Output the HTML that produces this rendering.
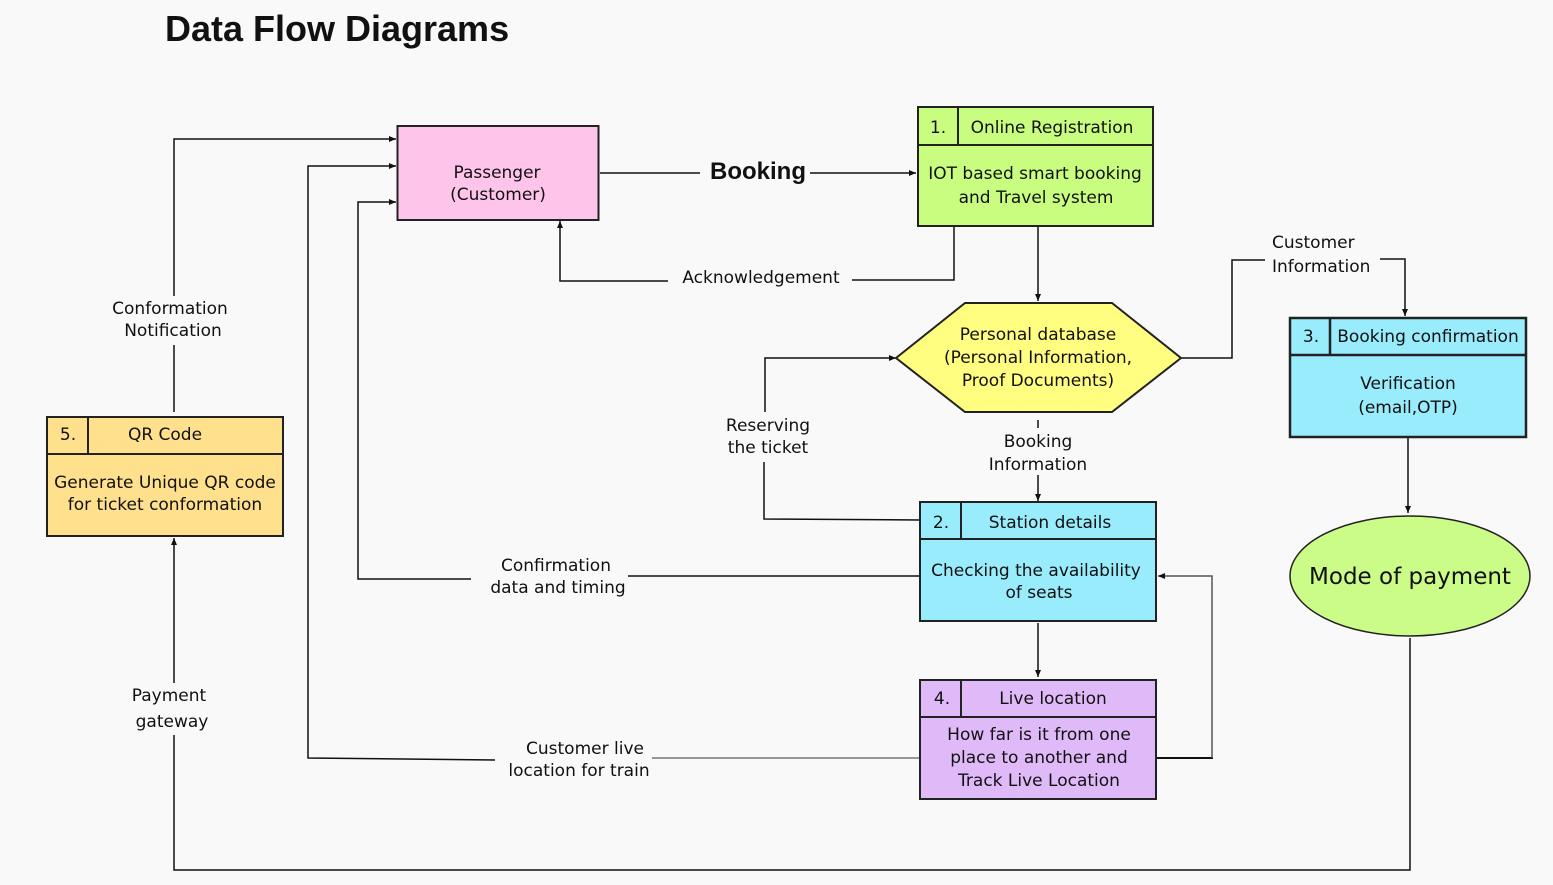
<!DOCTYPE html>
<html><head><meta charset="utf-8"><style>
html,body{margin:0;padding:0;background:#f9f9f9;}
svg{display:block;font-family:"DejaVu Sans","Liberation Sans",sans-serif;}
text{fill:#111;}
.t{font-size:17px;}
</style></head><body>
<svg width="1553" height="885" viewBox="0 0 1553 885" xmlns="http://www.w3.org/2000/svg">
<defs>
<marker id="a" markerWidth="8" markerHeight="8" refX="7" refY="4" orient="auto" markerUnits="userSpaceOnUse">
<path d="M0,1 L7,4 L0,7 z" fill="#111"/></marker>
</defs>
<rect width="1553" height="885" fill="#f9f9f9"/>
<text x="165" y="41" font-size="36" font-weight="bold" font-family="Liberation Sans">Data Flow Diagrams</text>

<g stroke="#111" stroke-width="1.5" fill="none">
<line x1="600" y1="173" x2="700" y2="173"/>
<line x1="810" y1="173" x2="916" y2="173" marker-end="url(#a)"/>
<polyline points="954,227 954,280 852,280"/>
<polyline points="668,281 560,281 560,221" marker-end="url(#a)"/>
<line x1="1038" y1="227" x2="1038" y2="301" marker-end="url(#a)"/>
<polyline points="1181,358 1232,358 1232,260 1265,260"/>
<polyline points="1380,259 1405,259 1405,316" marker-end="url(#a)"/>
<line x1="1038" y1="420" x2="1038" y2="428"/>
<line x1="1038" y1="475" x2="1038" y2="501" marker-end="url(#a)"/>
<polyline points="920,520 764,519 764,462"/>
<polyline points="765,412 765,358 896,358" marker-end="url(#a)"/>
<line x1="920" y1="576" x2="628" y2="576"/>
<polyline points="471,579 358,579 358,202 396,202" marker-end="url(#a)"/>
<line x1="1038" y1="623" x2="1038" y2="677" marker-end="url(#a)"/>
<line x1="1157" y1="758" x2="1213" y2="758" stroke-width="2"/>
<polyline points="1212,758 1212,576 1158,576" stroke="#555" marker-end="url(#a)"/>
<line x1="920" y1="758" x2="652" y2="758" stroke="#777"/>
<polyline points="495,760 308,758 308,166 396,166" marker-end="url(#a)"/>
<line x1="174" y1="412" x2="174" y2="345"/>
<polyline points="174,296 174,139 396,139" marker-end="url(#a)"/>
<polyline points="1410,638 1410,870 174,870 174,735"/>
<line x1="174" y1="683" x2="174" y2="538" marker-end="url(#a)"/>
<line x1="1408" y1="438" x2="1408" y2="513" marker-end="url(#a)"/>
</g>

<rect x="397.5" y="126" width="201" height="94" fill="#ffc4ea" stroke="#222" stroke-width="2"/>
<text class="t" x="497" y="178" text-anchor="middle">Passenger</text>
<text class="t" x="498" y="200" text-anchor="middle">(Customer)</text>
<text x="758" y="179" font-size="24" font-weight="bold" font-family="Liberation Sans" text-anchor="middle">Booking</text>
<text class="t" x="761" y="283" text-anchor="middle">Acknowledgement</text>

<g stroke="#222" stroke-width="2">
<rect x="918" y="107" width="235" height="119" fill="#c8fd80"/>
<line x1="918" y1="145" x2="1153" y2="145"/>
<line x1="958" y1="107" x2="958" y2="145"/>
</g>
<text class="t" x="938" y="133" text-anchor="middle">1.</text>
<text class="t" x="1052" y="133" text-anchor="middle">Online Registration</text>
<text class="t" x="1035" y="179" text-anchor="middle">IOT based smart booking</text>
<text class="t" x="1036" y="203" text-anchor="middle">and Travel system</text>

<polygon points="896,358 965,303 1112,303 1181,358 1112,412 965,412" fill="#fffe80" stroke="#222" stroke-width="2"/>
<text class="t" x="1038" y="340" text-anchor="middle">Personal database</text>
<text class="t" x="1038" y="363" text-anchor="middle">(Personal  Information,</text>
<text class="t" x="1038" y="386" text-anchor="middle">Proof Documents)</text>

<text class="t" x="1272" y="248">Customer</text>
<text class="t" x="1272" y="272">Information</text>

<g stroke="#222" stroke-width="2.5">
<rect x="1290" y="318" width="236" height="119" fill="#99ecfc"/>
<line x1="1290" y1="355" x2="1526" y2="355"/>
<line x1="1330" y1="318" x2="1330" y2="355"/>
</g>
<text class="t" x="1311" y="342" text-anchor="middle">3.</text>
<text class="t" x="1428" y="342" text-anchor="middle">Booking confirmation</text>
<text class="t" x="1408" y="389" text-anchor="middle">Verification</text>
<text class="t" x="1408" y="413" text-anchor="middle">(email,OTP)</text>

<ellipse cx="1410" cy="576" rx="120" ry="60" fill="#ccfc88" stroke="#222" stroke-width="1.5"/>
<text x="1410" y="584" font-size="23" text-anchor="middle">Mode of payment</text>

<text class="t" x="1038" y="447" text-anchor="middle">Booking</text>
<text class="t" x="1038" y="470" text-anchor="middle">Information</text>
<text class="t" x="768" y="431" text-anchor="middle">Reserving</text>
<text class="t" x="768" y="453" text-anchor="middle">the ticket</text>

<g stroke="#222" stroke-width="2">
<rect x="920" y="502" width="236" height="119" fill="#99ecfc"/>
<line x1="920" y1="539" x2="1156" y2="539"/>
<line x1="961" y1="502" x2="961" y2="539"/>
</g>
<text class="t" x="941" y="528" text-anchor="middle">2.</text>
<text class="t" x="1050" y="528" text-anchor="middle">Station details</text>
<text class="t" x="1036" y="576" text-anchor="middle">Checking the availability</text>
<text class="t" x="1039" y="598" text-anchor="middle">of seats</text>

<text class="t" x="556" y="571" text-anchor="middle">Confirmation</text>
<text class="t" x="558" y="593" text-anchor="middle">data and timing</text>

<g stroke="#222" stroke-width="2">
<rect x="920" y="680" width="236" height="119" fill="#e0b9f8"/>
<line x1="920" y1="717" x2="1156" y2="717"/>
<line x1="961" y1="680" x2="961" y2="717"/>
</g>
<text class="t" x="942" y="704" text-anchor="middle">4.</text>
<text class="t" x="1053" y="704" text-anchor="middle">Live location</text>
<text class="t" x="1039" y="740" text-anchor="middle">How far is it from one</text>
<text class="t" x="1039" y="763" text-anchor="middle">place to another and</text>
<text class="t" x="1039" y="786" text-anchor="middle">Track Live Location</text>

<text class="t" x="585" y="754" text-anchor="middle">Customer live</text>
<text class="t" x="579" y="776" text-anchor="middle">location for train</text>

<g stroke="#222" stroke-width="2">
<rect x="47" y="417" width="236" height="119" fill="#ffe08c"/>
<line x1="47" y1="454" x2="283" y2="454"/>
<line x1="88" y1="417" x2="88" y2="454"/>
</g>
<text class="t" x="68" y="440" text-anchor="middle">5.</text>
<text class="t" x="165" y="440" text-anchor="middle">QR Code</text>
<text class="t" x="165" y="488" text-anchor="middle">Generate Unique QR code</text>
<text class="t" x="165" y="510" text-anchor="middle">for ticket conformation</text>

<text class="t" x="170" y="314" text-anchor="middle">Conformation</text>
<text class="t" x="173" y="336" text-anchor="middle">Notification</text>
<text class="t" x="169" y="701" text-anchor="middle">Payment</text>
<text class="t" x="172" y="727" text-anchor="middle">gateway</text>
</svg>
</body></html>
